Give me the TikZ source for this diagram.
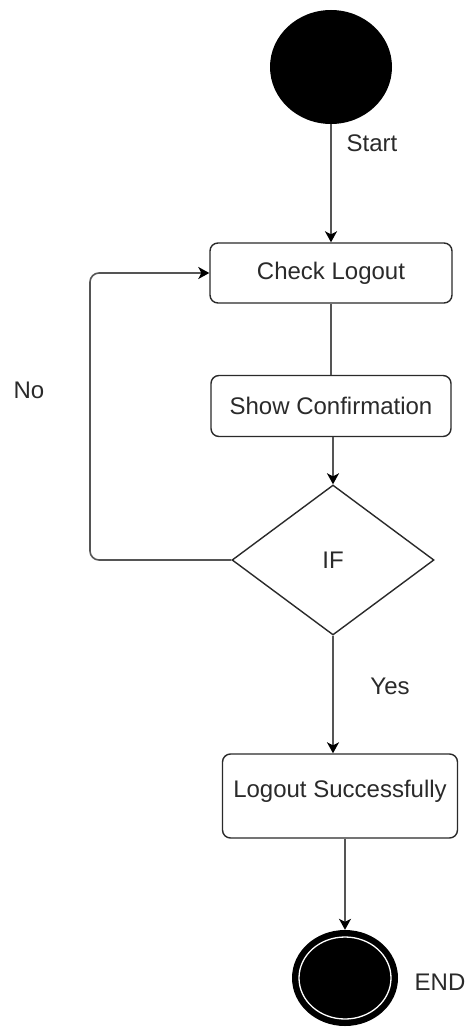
\documentclass[tikz,border=0pt]{standalone}
\usepackage{fontspec}
\setmainfont{Liberation Sans}
\usetikzlibrary{shapes.geometric,arrows.meta}
\definecolor{ink}{HTML}{2A2A2A}
\definecolor{wire}{HTML}{555555}
\begin{document}
\begin{tikzpicture}[x={(1pt,0)},y={(0,-1pt)},
  font=\fontsize{24}{28}\selectfont,
  lbl/.style={text=ink,inner sep=0pt},
  action/.style={draw=ink,line width=1.4pt,rounded corners=8pt,fill=white,text=ink,inner sep=0pt},
  decision/.style={diamond,draw=ink,line width=1.4pt,fill=white,text=ink,inner sep=0pt,minimum width=202pt,minimum height=150pt},
  flow/.style={draw=wire,line width=1.6pt},
  arrow/.style={flow,-{Stealth[length=11pt,width=12pt,inset=3pt,color=black]}}]
\useasboundingbox (0,0) rectangle (470,1030);

% start state
\node[ellipse,fill=black,minimum width=122pt,minimum height=114pt,inner sep=0pt] (start) at (331,67) {};

% actions and decision
\node[action,minimum width=242pt,minimum height=60pt] (cl) at (331,273) {Check Logout};
\node[action,minimum width=240pt,minimum height=61pt] (sc) at (331,406) {Show Confirmation};
\node[decision] (dec) at (333,560) {IF};
\node[action,minimum width=235pt,minimum height=84pt,text depth=14pt] (ls) at (340,796) {Logout Successfully};

% final state: black disc with a thin white ring
\node[ellipse,fill=black,minimum width=106pt,minimum height=96pt,inner sep=0pt] (fin) at (345,978) {};
\draw[white,line width=1.3pt] (fin.center) ellipse [x radius=46pt,y radius=41pt];

% labels
\node[lbl] (lstart) at (372,143) {Start};
\node[lbl] (lno) at (29,390) {No};
\node[lbl] (lyes) at (390,686) {Yes};
\node[lbl] (lend) at (440,982) {END};

% connectors
\coordinate (loopx) at (90,560);
\draw[arrow] (start.south) -- (cl.north);
\draw[flow] (cl.south) -- (sc.north);
\draw[arrow] (sc.south -| dec.north) -- (dec.north);
\draw[arrow,rounded corners=9pt] (dec.west) -- (loopx) |- (cl.west);
\draw[arrow] (dec.south) -- (dec.south |- ls.north);
\draw[arrow] (fin.north |- ls.south) -- (fin.north);
\end{tikzpicture}
\end{document}
